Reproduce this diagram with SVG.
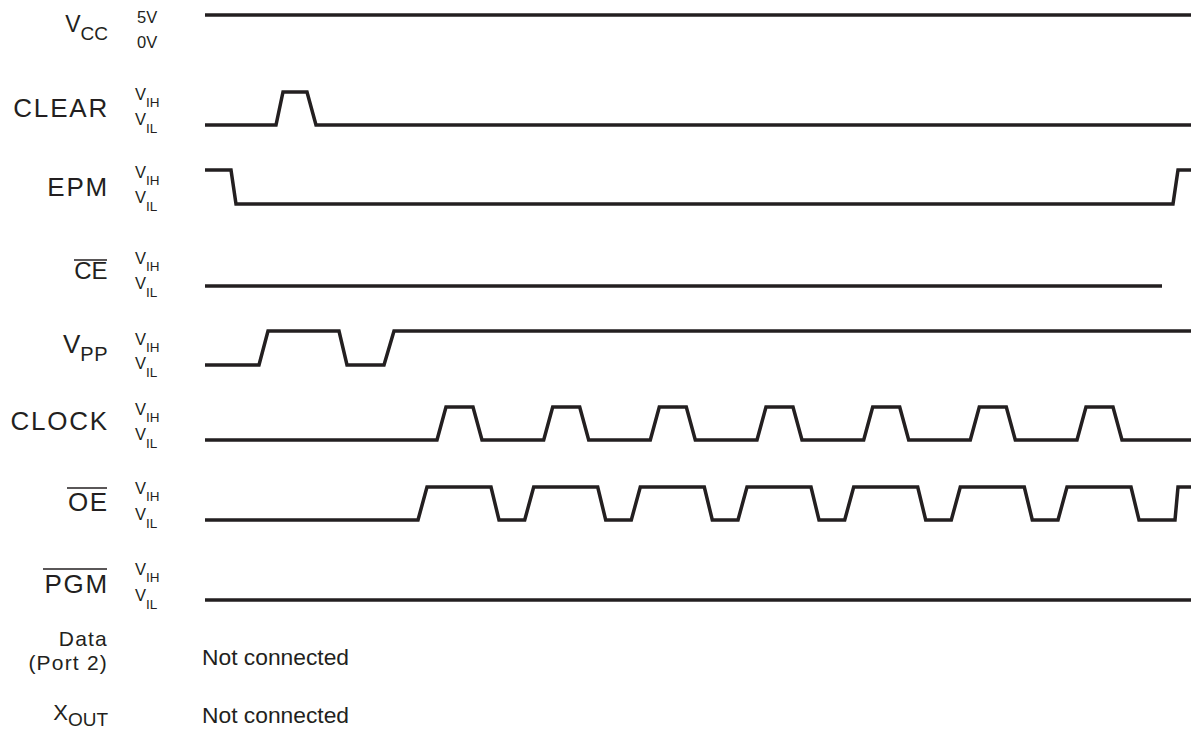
<svg xmlns="http://www.w3.org/2000/svg" width="1191" height="731" viewBox="0 0 1191 731">
<style>
text{font-family:"Liberation Sans",Arial,sans-serif;fill:#231f20}
.lbl{font-size:26px;letter-spacing:1.8px;text-anchor:end}
.lv{font-size:16.5px}
.sub{font-size:13.5px}
.wave{fill:none;stroke:#231f20;stroke-width:3.5;stroke-linejoin:miter}
.ov{stroke:#231f20;stroke-width:1.6}
.nc{font-size:22.8px}
</style>
<rect width="1191" height="731" fill="#fff"/>
<g id="vcc">
<text x="108" y="32" text-anchor="end"><tspan font-size="23">V</tspan><tspan font-size="19" dy="8">CC</tspan></text>
<text class="lv" x="137" y="23">5V</text>
<text class="lv" x="137" y="48">0V</text>
</g>
<g id="clear">
<text class="lbl" x="109" y="117">CLEAR</text>
<text class="lv" x="135" y="100">V<tspan class="sub" dy="7">IH</tspan></text>
<text class="lv" x="135" y="125">V<tspan class="sub" dy="8">IL</tspan></text>
</g>
<g id="epm">
<text class="lbl" x="109" y="196">EPM</text>
<text class="lv" x="135" y="178">V<tspan class="sub" dy="7">IH</tspan></text>
<text class="lv" x="135" y="203">V<tspan class="sub" dy="8">IL</tspan></text>
</g>
<g id="ce">
<text class="lbl" x="107.5" y="279" style="font-size:24px;letter-spacing:0">CE</text>
<line class="ov" x1="74" y1="260" x2="107" y2="260"/>
<text class="lv" x="135" y="264">V<tspan class="sub" dy="7">IH</tspan></text>
<text class="lv" x="135" y="289">V<tspan class="sub" dy="8">IL</tspan></text>
</g>
<g id="vpp">
<text x="108" y="353" text-anchor="end"><tspan font-size="26">V</tspan><tspan font-size="20" dy="8" letter-spacing="0.5">PP</tspan></text>
<text class="lv" x="135" y="345">V<tspan class="sub" dy="7">IH</tspan></text>
<text class="lv" x="135" y="369">V<tspan class="sub" dy="8">IL</tspan></text>
</g>
<g id="clock">
<text class="lbl" x="109" y="430">CLOCK</text>
<text class="lv" x="135" y="415">V<tspan class="sub" dy="7">IH</tspan></text>
<text class="lv" x="135" y="440">V<tspan class="sub" dy="8">IL</tspan></text>
</g>
<g id="oe">
<text class="lbl" x="108.5" y="511" style="letter-spacing:1.5px">OE</text>
<line class="ov" x1="67" y1="488" x2="107" y2="488"/>
<text class="lv" x="135" y="494">V<tspan class="sub" dy="7">IH</tspan></text>
<text class="lv" x="135" y="520">V<tspan class="sub" dy="8">IL</tspan></text>
</g>
<g id="pgm">
<text class="lbl" x="109" y="593">PGM</text>
<line class="ov" x1="43" y1="569" x2="107" y2="569"/>
<text class="lv" x="135" y="575">V<tspan class="sub" dy="7">IH</tspan></text>
<text class="lv" x="135" y="601">V<tspan class="sub" dy="8">IL</tspan></text>
</g>
<g id="data">
<text x="108" y="646" text-anchor="end" style="font-size:21px;letter-spacing:1.2px">Data</text>
<text x="108" y="670" text-anchor="end" style="font-size:21px;letter-spacing:1.2px">(Port 2)</text>
<text class="nc" x="202" y="665">Not connected</text>
</g>
<g id="xout">
<text x="108" y="720" text-anchor="end"><tspan font-size="22">X</tspan><tspan font-size="19" dy="6">OUT</tspan></text>
<text class="nc" x="202" y="723">Not connected</text>
</g>
<g id="waveforms">
<path class="wave" d="M205,15 L1191,15"/>
<path class="wave" d="M205,125 L276,125 L283,92 L307,92 L316,125 L1191,125"/>
<path class="wave" d="M205,170 L231,170 L236,204 L1173,204 L1178,170 L1191,170"/>
<path class="wave" d="M205,286 L1162,286"/>
<path class="wave" d="M205,365 L259,365 L268,331 L339,331 L347,365 L384,365 L394,331 L1191,331"/>
<path class="wave" d="M205,440 L437,440 L446,407 L473,407 L482,440 L543.7,440 L552.7,407 L579.7,407 L588.7,440 L650.3,440 L659.3,407 L686.3,407 L695.3,440 L757,440 L766,407 L793,407 L802,440 L863.7,440 L872.7,407 L899.7,407 L908.7,440 L970.3,440 L979.3,407 L1006.3,407 L1015.3,440 L1077,440 L1086,407 L1113,407 L1122,440 L1191,440"/>
<path class="wave" d="M205,520 L418,520 L427,487 L491,487 L499,520 L524.7,520 L533.7,487 L597.7,487 L605.7,520 L631.3,520 L640.3,487 L704.3,487 L712.3,520 L738,520 L747,487 L811,487 L819,520 L844.7,520 L853.7,487 L917.7,487 L925.7,520 L951.3,520 L960.3,487 L1024.3,487 L1032.3,520 L1058,520 L1067,487 L1131,487 L1139,520 L1175,520 L1178,487 L1191,487"/>
<path class="wave" d="M205,600 L1191,600"/>
</g>
</svg>
